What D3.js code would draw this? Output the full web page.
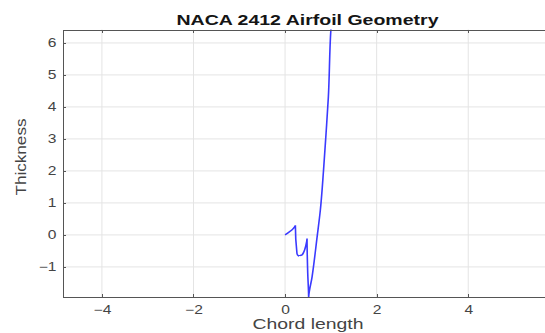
<!DOCTYPE html>
<html lang="en">
<head>
    <meta charset="UTF-8">
    <title>NACA 2412 Airfoil Geometry</title>
    <script src="https://d3js.org/d3.v7.min.js"></script>
    <style>
        body { margin: 0; background: #fff; }
        .grid line { stroke: #e4e4e4; stroke-width: 1px; }
        .axis path, .axis line { fill: none; stroke: #555; shape-rendering: crispEdges; }
        .axis text { font-family: "Liberation Sans", Arial, sans-serif; font-size: 12px; fill: #444; }
        .line { fill: none; stroke: #3a3aff; stroke-width: 1.6px; }
    </style>
</head>
<body>
<svg width="545" height="333"></svg>
<script>
    // traced curve points (chord x, thickness y)
    const chordX = [0.0, 0.08, 0.16, 0.225, 0.26, 0.29, 0.32, 0.37, 0.41, 0.45, 0.48, 0.495, 0.515, 0.59, 0.70, 0.77, 0.84, 0.895, 0.945, 1.0, 1.03];
    const thickY = [0.0, 0.08, 0.17, 0.30, -0.58, -0.65, -0.66, -0.62, -0.53, -0.35, -0.11, -1.2, -1.98, -1.31, -0.06, 0.77, 2.02, 3.17, 4.3, 6.4, 7.0];
    const xTicks = [-4, -2, 0, 2, 4];
    const yTicks = [-1, 0, 1, 2, 3, 4, 5, 6];

    const margin = {top: 29.5, left: 63, bottom: 36};
    const width = 500, height = 333 - margin.top - margin.bottom;
    const stretch = 1.3; // tick labels in the reference are wider than tall

    const x = d3.scaleLinear().domain([-4.85, 6.07]).range([0, width]);
    const y = d3.scaleLinear().domain([-1.94, 6.42]).range([height, 0]);

    const svg = d3.select("svg")
        .append("g")
        .attr("transform", "translate(" + margin.left + "," + margin.top + ")");

    svg.append("defs").append("clipPath").attr("id", "clip")
        .append("rect").attr("width", width).attr("height", height);

    // grid
    svg.append("g").attr("class", "grid")
        .selectAll("line").data(xTicks).join("line")
        .attr("x1", d => x(d)).attr("x2", d => x(d))
        .attr("y1", 0).attr("y2", height);
    svg.append("g").attr("class", "grid")
        .selectAll("line").data(yTicks).join("line")
        .attr("x1", 0).attr("x2", width)
        .attr("y1", d => y(d)).attr("y2", d => y(d));

    // the curve
    const pts = chordX.map((c, i) => [c, thickY[i]]);
    svg.append("path")
        .attr("class", "line")
        .attr("clip-path", "url(#clip)")
        .attr("d", d3.line().x(d => x(d[0])).y(d => y(d[1])).curve(d3.curveMonotoneY)(pts));

    // axes
    const xAxis = svg.append("g").attr("class", "axis")
        .attr("transform", "translate(0," + height + ")")
        .call(d3.axisBottom(x).tickValues(xTicks).tickSizeInner(-3).tickSizeOuter(0).tickPadding(8));
    xAxis.selectAll("text").attr("transform", "scale(" + stretch + ",1)");
    svg.append("g").attr("class", "axis")
        .call(d3.axisTop(x).tickValues(xTicks).tickSizeInner(-3).tickSizeOuter(0).tickFormat(""));
    const yAxis = svg.append("g").attr("class", "axis")
        .call(d3.axisLeft(y).tickValues(yTicks).tickSizeInner(-3).tickSizeOuter(0));
    yAxis.selectAll("text")
        .attr("x", -6.5 / stretch)
        .attr("transform", "scale(" + stretch + ",1)");

    // labels
    const font = "'Liberation Sans', Arial, sans-serif";
    svg.append("text")
        .attr("x", 244.5).attr("y", -4.5)
        .attr("text-anchor", "middle")
        .attr("textLength", 262).attr("lengthAdjust", "spacingAndGlyphs")
        .style("font-family", font)
        .style("font-weight", "bold").style("font-size", "15px").style("fill", "#151515")
        .text("NACA 2412 Airfoil Geometry");
    svg.append("text")
        .attr("x", 245).attr("y", height + 32)
        .attr("text-anchor", "middle")
        .attr("textLength", 111).attr("lengthAdjust", "spacingAndGlyphs")
        .style("font-family", font)
        .style("font-size", "15px").style("fill", "#444")
        .text("Chord length");
    svg.append("text")
        .attr("transform", "translate(-37," + (157 - margin.top) + ") rotate(-90)")
        .attr("text-anchor", "middle")
        .attr("textLength", 77).attr("lengthAdjust", "spacingAndGlyphs")
        .style("font-family", font)
        .style("font-size", "15px").style("fill", "#444")
        .text("Thickness");
</script>
</body>
</html>
